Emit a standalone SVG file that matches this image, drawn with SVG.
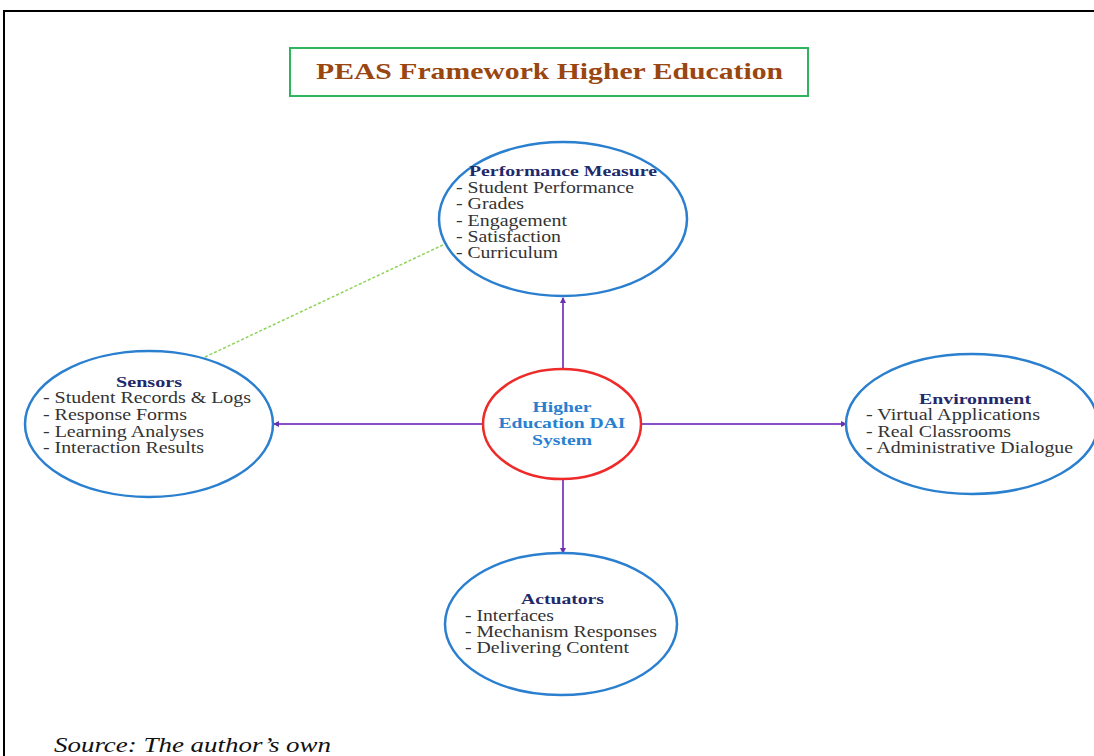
<svg xmlns="http://www.w3.org/2000/svg" width="1094" height="756" viewBox="0 0 1094 756">
  <style>
    .frame { fill: none; stroke: #000; stroke-width: 2; }
    .node { fill: #fff; stroke: #2a7fcf; stroke-width: 2.5; }
    .core { fill: #fff; stroke: #ee2a2a; stroke-width: 2.5; }
    .head { font-family: "Liberation Serif", serif; font-weight: bold; font-size: 14.5px; fill: #1f2a6b; }
    .item { font-family: "Liberation Serif", serif; font-size: 16px; fill: #333; }
    .coretext { font-family: "Liberation Serif", serif; font-weight: bold; font-size: 15.5px; fill: #2a7fcf; text-anchor: middle; }
    .link { stroke: #8a4fc8; stroke-width: 2; fill: none; marker-end: url(#arrow); }
    .hint { stroke: #8fd45a; stroke-width: 1.5; stroke-dasharray: 3 2; fill: none; }
  </style>
  <defs>
    <marker id="arrow" viewBox="0 0 6 6" refX="5" refY="3" markerWidth="3" markerHeight="3" orient="auto">
      <path d="M0,0 L6,3 L0,6 z" fill="#6a2fb0"/>
    </marker>
  </defs>

  <rect width="1094" height="756" fill="#fff"/>
  <path class="frame" d="M4,756 V11 H1094"/>

  <g id="title">
    <rect x="290" y="48" width="518" height="48" fill="#fff" stroke="#2db55d" stroke-width="2"/>
    <text x="316" y="79" textLength="467" lengthAdjust="spacingAndGlyphs" font-family="Liberation Serif, serif" font-weight="bold" font-size="23" fill="#9a4610">PEAS Framework Higher Education</text>
  </g>

  <g id="connectors">
    <line class="hint" x1="205" y1="357" x2="447" y2="243"/>
    <line class="link" x1="563" y1="369" x2="563" y2="298"/>
    <line class="link" x1="483" y1="424" x2="274" y2="424"/>
    <line class="link" x1="642" y1="424" x2="846" y2="424"/>
    <line class="link" x1="563" y1="479" x2="563" y2="553"/>
  </g>

  <g id="performance">
    <ellipse class="node" cx="563" cy="219" rx="124" ry="77"/>
    <text class="head" x="469" y="176" textLength="188" lengthAdjust="spacingAndGlyphs">Performance Measure</text>
    <text class="item" x="456" y="193" textLength="178" lengthAdjust="spacingAndGlyphs">- Student Performance</text>
    <text class="item" x="456" y="209" textLength="68" lengthAdjust="spacingAndGlyphs">- Grades</text>
    <text class="item" x="456" y="226" textLength="111" lengthAdjust="spacingAndGlyphs">- Engagement</text>
    <text class="item" x="456" y="242" textLength="105" lengthAdjust="spacingAndGlyphs">- Satisfaction</text>
    <text class="item" x="456" y="258" textLength="102" lengthAdjust="spacingAndGlyphs">- Curriculum</text>
  </g>

  <g id="sensors">
    <ellipse class="node" cx="149" cy="424" rx="124" ry="73"/>
    <text class="head" x="116" y="387" textLength="66" lengthAdjust="spacingAndGlyphs">Sensors</text>
    <text class="item" x="43" y="403" textLength="208" lengthAdjust="spacingAndGlyphs">- Student Records &amp; Logs</text>
    <text class="item" x="43" y="420" textLength="144" lengthAdjust="spacingAndGlyphs">- Response Forms</text>
    <text class="item" x="43" y="437" textLength="161" lengthAdjust="spacingAndGlyphs">- Learning Analyses</text>
    <text class="item" x="43" y="453" textLength="161" lengthAdjust="spacingAndGlyphs">- Interaction Results</text>
  </g>

  <g id="system">
    <ellipse class="core" cx="562" cy="424" rx="79" ry="55"/>
    <text class="coretext" x="562" y="412" textLength="59" lengthAdjust="spacingAndGlyphs">Higher</text>
    <text class="coretext" x="562" y="428" textLength="127" lengthAdjust="spacingAndGlyphs">Education DAI</text>
    <text class="coretext" x="562" y="445" textLength="60" lengthAdjust="spacingAndGlyphs">System</text>
  </g>

  <g id="environment">
    <ellipse class="node" cx="972" cy="424" rx="126" ry="70"/>
    <text class="head" x="919" y="404" textLength="112" lengthAdjust="spacingAndGlyphs">Environment</text>
    <text class="item" x="866" y="420" textLength="174" lengthAdjust="spacingAndGlyphs">- Virtual Applications</text>
    <text class="item" x="866" y="437" textLength="145" lengthAdjust="spacingAndGlyphs">- Real Classrooms</text>
    <text class="item" x="866" y="453" textLength="207" lengthAdjust="spacingAndGlyphs">- Administrative Dialogue</text>
  </g>

  <g id="actuators">
    <ellipse class="node" cx="561" cy="624" rx="116" ry="71"/>
    <text class="head" x="521" y="604" textLength="83" lengthAdjust="spacingAndGlyphs">Actuators</text>
    <text class="item" x="465" y="621" textLength="89" lengthAdjust="spacingAndGlyphs">- Interfaces</text>
    <text class="item" x="465" y="637" textLength="192" lengthAdjust="spacingAndGlyphs">- Mechanism Responses</text>
    <text class="item" x="465" y="653" textLength="164" lengthAdjust="spacingAndGlyphs">- Delivering Content</text>
  </g>

  <text x="54" y="752" textLength="277" lengthAdjust="spacingAndGlyphs" font-family="Liberation Serif, serif" font-style="italic" font-size="22" fill="#111">Source: The author’s own</text>
</svg>
